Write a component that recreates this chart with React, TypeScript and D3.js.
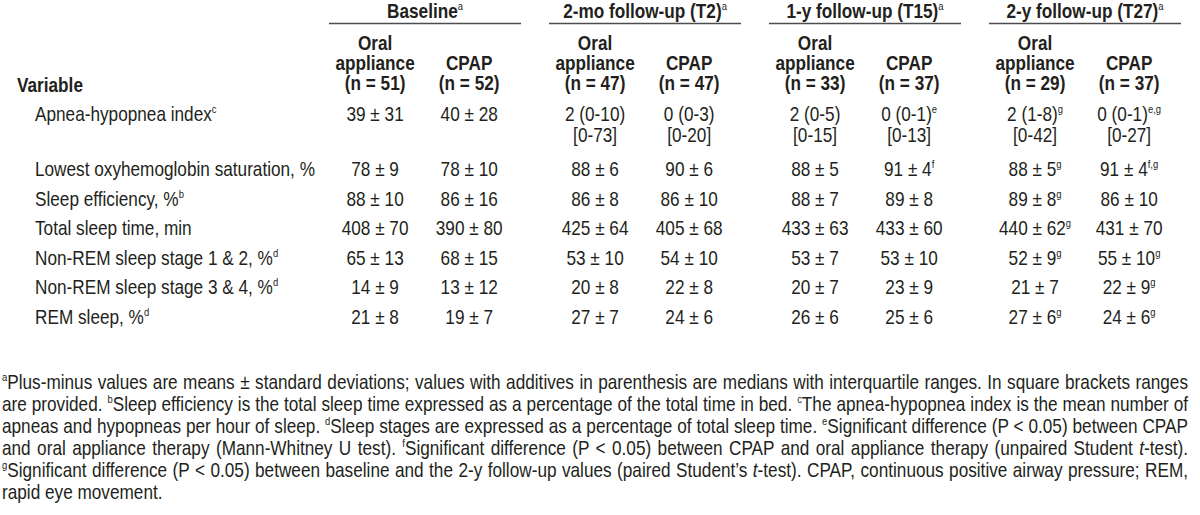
import React, { useLayoutEffect, useRef } from "react";
import * as d3 from "d3";

const W = 1200;
const H = 515;
const FONT = "'Liberation Sans Narrow','Arial Narrow','Liberation Sans',Arial,sans-serif";
const INK = "#231f20";

// ---- data ----
const groups = ["Baseline", "2-mo follow-up (T2)", "1-y follow-up (T15)", "2-y follow-up (T27)"];
const groupSup = "a";
const arms = ["Oral appliance", "CPAP"];
const groupN = [
  [51, 52],
  [47, 47],
  [33, 37],
  [29, 37],
];
const variables = [
  "Apnea-hypopnea index",
  "Lowest oxyhemoglobin saturation, %",
  "Sleep efficiency, %",
  "Total sleep time, min",
  "Non-REM sleep stage 1 & 2, %",
  "Non-REM sleep stage 3 & 4, %",
  "REM sleep, %",
];
const variableSup = ["c", "", "b", "", "d", "d", "d"];

const baselineOA = ["39 ± 31", "78 ± 9", "88 ± 10", "408 ± 70", "65 ± 13", "14 ± 9", "21 ± 8"];
const baselineCPAP = ["40 ± 28", "78 ± 10", "86 ± 16", "390 ± 80", "68 ± 15", "13 ± 12", "19 ± 7"];
const t2OA = ["2 (0-10)", "88 ± 6", "86 ± 8", "425 ± 64", "53 ± 10", "20 ± 8", "27 ± 7"];
const t2CPAP = ["0 (0-3)", "90 ± 6", "86 ± 10", "405 ± 68", "54 ± 10", "22 ± 8", "24 ± 6"];
const t15OA = ["2 (0-5)", "88 ± 5", "88 ± 7", "433 ± 63", "53 ± 7", "20 ± 7", "26 ± 6"];
const t15CPAP = ["0 (0-1)", "91 ± 4", "89 ± 8", "433 ± 60", "53 ± 10", "23 ± 9", "25 ± 6"];
const t15CPAPSup = ["e", "f", "", "", "", "", ""];
const t27OA = ["2 (1-8)", "88 ± 5", "89 ± 8", "440 ± 62", "52 ± 9", "21 ± 7", "27 ± 6"];
const t27OASup = ["g", "g", "g", "g", "g", "", "g"];
const t27CPAP = ["0 (0-1)", "91 ± 4", "86 ± 10", "431 ± 70", "55 ± 10", "22 ± 9", "24 ± 6"];
const t27CPAPSup = ["e,g", "f,g", "", "", "g", "g", "g"];
const noSup = ["", "", "", "", "", "", ""];
// ranges shown in square brackets under the apnea-hypopnea index
const ahiRanges = ["", "", "[0-73]", "[0-20]", "[0-15]", "[0-13]", "[0-42]", "[0-27]"];

const columns = [
  { g: 0, a: 0, vals: baselineOA, sups: noSup },
  { g: 0, a: 1, vals: baselineCPAP, sups: noSup },
  { g: 1, a: 0, vals: t2OA, sups: noSup },
  { g: 1, a: 1, vals: t2CPAP, sups: noSup },
  { g: 2, a: 0, vals: t15OA, sups: noSup },
  { g: 2, a: 1, vals: t15CPAP, sups: t15CPAPSup },
  { g: 3, a: 0, vals: t27OA, sups: t27OASup },
  { g: 3, a: 1, vals: t27CPAP, sups: t27CPAPSup },
];

type Seg = { t: string; sup?: boolean; it?: boolean };
const footnoteLines: Seg[][] = [
  [{ t: "a", sup: true }, { t: "Plus-minus values are means ± standard deviations; values with additives in parenthesis are medians with interquartile ranges. In square brackets ranges" }],
  [{ t: "are provided. " }, { t: "b", sup: true }, { t: "Sleep efficiency is the total sleep time expressed as a percentage of the total time in bed. " }, { t: "c", sup: true }, { t: "The apnea-hypopnea index is the mean number of" }],
  [{ t: "apneas and hypopneas per hour of sleep. " }, { t: "d", sup: true }, { t: "Sleep stages are expressed as a percentage of total sleep time. " }, { t: "e", sup: true }, { t: "Significant difference (P < 0.05) between CPAP" }],
  [{ t: "and oral appliance therapy (Mann-Whitney U test). " }, { t: "f", sup: true }, { t: "Significant difference (P < 0.05) between CPAP and oral appliance therapy (unpaired Student " }, { t: "t", it: true }, { t: "-test)." }],
  [{ t: "g", sup: true }, { t: "Significant difference (P < 0.05) between baseline and the 2-y follow-up values (paired Student’s " }, { t: "t", it: true }, { t: "-test). CPAP, continuous positive airway pressure; REM," }],
  [{ t: "rapid eye movement." }],
];

// ---- layout ----
const FS = 20;
const SX = 0.86; // horizontal condensing (narrow face)
const SUPFS = 11;
const SUPDY = -8;
const gx = d3.scaleBand<number>().domain(d3.range(groups.length)).range([329, 1181]).paddingInner(0.127);
const ax = d3.scalePoint<number>().domain([0, 1]).range([0.24, 0.73]);
const colX = (g: number, a: number) => (gx(g) as number) + gx.bandwidth() * (ax(a) as number);

const rowLines = variables.map((_, i) => (i === 0 ? 2 : 1));
const ROW = 29.5;
const EXTRA = 25.5;
const rowY: number[] = [];
{
  let y = 121;
  rowLines.forEach((n) => {
    rowY.push(y);
    y += ROW + (n - 1) * EXTRA;
  });
}
const FOOT_X0 = 2;
const FOOT_X1 = 1188;
const footY = d3.scaleLinear().domain([0, 1]).range([389, 411]);

const tf = (x: number, y: number) => `translate(${x},${y}) scale(${SX},1)`;

function Val({ x, y, v, s }: { x: number; y: number; v: string; s: string }) {
  return (
    <text transform={tf(x, y)} textAnchor="middle" fontSize={FS} fill={INK}>
      {v}
      {s ? (
        <tspan fontSize={SUPFS} dy={SUPDY}>
          {s}
        </tspan>
      ) : null}
    </text>
  );
}

export default function App() {
  const footRef = useRef<SVGGElement>(null);

  useLayoutEffect(() => {
    if (!footRef.current) return;
    d3.select(footRef.current)
      .selectAll<SVGTextElement, unknown>("text.just")
      .each(function () {
        const el = this;
        el.setAttribute("word-spacing", "0");
        const w = el.getComputedTextLength();
        const spaces = (el.textContent || "").split(" ").length - 1;
        const target = (FOOT_X1 - FOOT_X0) / SX;
        const extra = (target - w) / Math.max(spaces, 1);
        el.setAttribute("word-spacing", String(extra));
      });
  }, []);

  return (
    <svg
      width={W}
      height={H}
      viewBox={`0 0 ${W} ${H}`}
      style={{ position: "absolute", left: 0, top: 0, background: "#fff" }}
      fontFamily={FONT}
    >
      <rect width={W} height={H} fill="#fff" />
      {/* group headers */}
      {groups.map((g, i) => {
        const x0 = gx(i) as number;
        const cx = x0 + gx.bandwidth() / 2;
        return (
          <g key={g}>
            <text transform={tf(cx, 17.5)} textAnchor="middle" fontSize={FS} fontWeight="bold" fill={INK}>
              {g}
              <tspan fontSize={SUPFS} dy={SUPDY} fontWeight="normal">
                {groupSup}
              </tspan>
            </text>
            <line x1={x0} x2={x0 + gx.bandwidth()} y1={23.5} y2={23.5} stroke="#4d4d4d" strokeWidth={1.5} />
            {arms.map((arm, a) => {
              const x = colX(i, a);
              const words = arm.split(" ");
              const lines = [...words, `(n = ${groupN[i][a]})`];
              const start = 90 - (lines.length - 1) * 20;
              return (
                <text key={arm} transform={tf(x, start)} textAnchor="middle" fontSize={FS} fontWeight="bold" fill={INK}>
                  {lines.map((l, k) => (
                    <tspan key={k} x={0} y={k * 20}>
                      {l}
                    </tspan>
                  ))}
                </text>
              );
            })}
          </g>
        );
      })}
      <text transform={tf(17, 92)} fontSize={FS} fontWeight="bold" fill={INK}>
        Variable
      </text>

      {/* rows */}
      {variables.map((v, r) => (
        <g key={v}>
          <text transform={tf(35, rowY[r])} fontSize={FS} fill={INK}>
            {v}
            {variableSup[r] ? (
              <tspan fontSize={SUPFS} dy={SUPDY}>
                {variableSup[r]}
              </tspan>
            ) : null}
          </text>
          {columns.map((c, k) => (
            <Val key={k} x={colX(c.g, c.a)} y={rowY[r]} v={c.vals[r]} s={c.sups[r]} />
          ))}
        </g>
      ))}
      {columns.map((c, k) =>
        ahiRanges[k] ? (
          <text key={"r" + k} transform={tf(colX(c.g, c.a), rowY[0] + 21)} textAnchor="middle" fontSize={FS} fill={INK}>
            {ahiRanges[k]}
          </text>
        ) : null
      )}

      {/* footnotes */}
      <g ref={footRef}>
        {footnoteLines.map((segs, i) => (
          <text
            key={i}
            className={i < footnoteLines.length - 1 ? "just" : ""}
            transform={tf(FOOT_X0, footY(i))}
            fontSize={FS}
            fill={INK}
          >
            {segs.map((s, k) => {
              if (s.sup) {
                return (
                  <tspan key={k} fontSize={SUPFS} dy={SUPDY}>
                    {s.t}
                  </tspan>
                );
              }
              const prevSup = k > 0 && segs[k - 1].sup;
              return (
                <tspan key={k} dy={prevSup ? -SUPDY : 0} fontStyle={s.it ? "italic" : "normal"}>
                  {s.t}
                </tspan>
              );
            })}
          </text>
        ))}
      </g>
    </svg>
  );
}
